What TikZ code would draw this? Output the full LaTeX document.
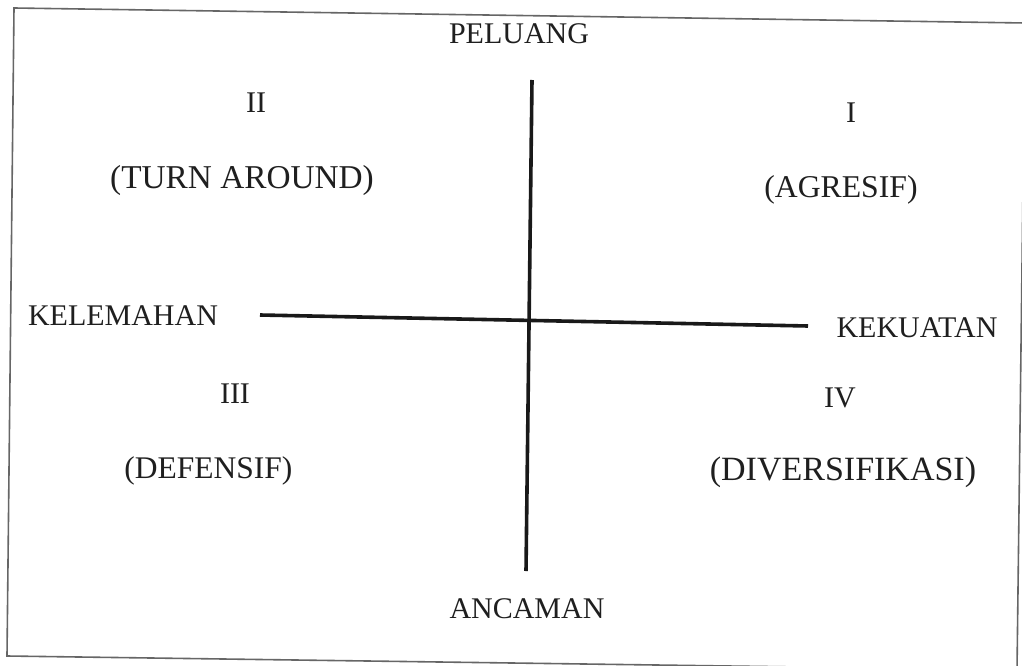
\documentclass[tikz,border=0pt]{standalone}
\usepackage{fontspec}
\setmainfont{Liberation Serif}
\begin{document}
\begin{tikzpicture}[x=1pt,y=-1pt,
  lbl/.style={anchor=base,inner sep=0pt,text=black!88,font=\fontsize{30}{36}\selectfont},
  plbl/.style={lbl,font=\fontsize{#1}{36}\selectfont},
  axis/.style={line width=3.6pt,black!90},
  frame/.style={line width=1.6pt,black!60}]
\useasboundingbox (0,0) rectangle (1022,666);
\fill[white] (0,0) rectangle (1022,666);
% frame (slightly rotated scan)
\coordinate (tl) at (14,8);
\coordinate (tr) at (1025,23);
\coordinate (br) at (1017,670);
\coordinate (bl) at (7,656);
\draw[frame] (tl) -- (tr) -- (br) -- (bl) -- cycle;
% axes
\coordinate (vtop) at (532,80);
\coordinate (vbot) at (526,571);
\coordinate (hl) at (260,315);
\coordinate (hr) at (808,326);
\draw[axis] (vtop) -- (vbot);
\draw[axis] (hl) -- (hr);
% labels
\node[lbl] (peluang) at (519,44) {PELUANG};
\node[lbl] (ancaman) at (527,618) {ANCAMAN};
\node[lbl] (kelemahan) at (123,325) {KELEMAHAN};
\node[lbl] (kekuatan) at (917,337) {KEKUATAN};
\node[lbl] (q2) at (256,113) {II};
\node[plbl=33.3] (q2t) at (242,188) {(TURN AROUND)};
\node[lbl] (q1) at (851,122) {I};
\node[plbl=31.7] (q1t) at (841,197) {(AGRESIF)};
\node[lbl] (q3) at (235,403) {III};
\node[plbl=31.5] (q3t) at (208.5,478) {(DEFENSIF)};
\node[lbl] (q4) at (840,407) {IV};
\node[plbl=34] (q4t) at (843,480) {(DIVERSIFIKASI)};
\end{tikzpicture}
\end{document}
